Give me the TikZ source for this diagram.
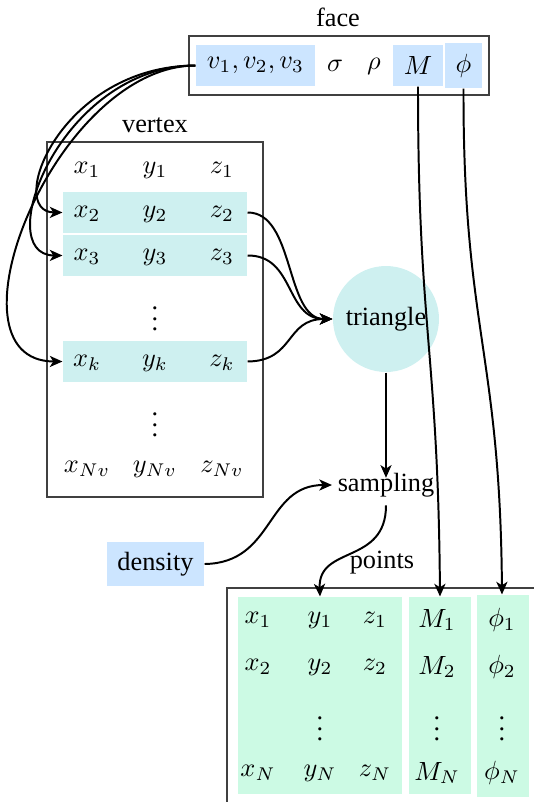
\documentclass[tikz,border=0pt]{standalone}
\usepackage[no-math]{fontspec}
\setmainfont{Liberation Serif}
\usetikzlibrary{arrows.meta,fit}
\definecolor{faceblue}{RGB}{204,229,255}
\definecolor{vcyan}{RGB}{206,240,240}
\definecolor{mint}{RGB}{204,250,228}
\tikzset{
  hl/.style={inner sep=0pt, draw=none},
  frame/.style={draw=black!75, line width=0.55pt},
  conn/.style={line width=0.75pt, -{Stealth[length=4.8pt,width=4.2pt,inset=1.3pt]}},
  cell/.style={inner sep=0pt},
  dots/.style={inner sep=0pt},
  lab/.style={inner sep=0pt, font=\fontsize{10}{12}\selectfont},
}
\begin{document}
\begin{tikzpicture}[x=0.38pt,y=-0.38pt]
\useasboundingbox (0,0) rectangle (533,802);
% ---------- face ----------
\node[lab] (facelab) at (338,17) {face};
\node[frame, fit={(189,36) (489,95)}, inner sep=0pt] (facebox) {};
\node[hl, fill=faceblue, fit={(196,45) (315,86)}] (vv) {};
\node[cell] at (vv) {$v_1,v_2,v_3$};
\node[cell] (sig) at (335,66) {$\sigma$};
\node[cell] (rho) at (374,66) {$\rho$};
\node[hl, fill=faceblue, fit={(393,45) (443,86)}] (Mf) {};
\node[cell] at (Mf) {$M$};
\node[hl, fill=faceblue, fit={(445,43) (482,88)}] (phif) {};
\node[cell] at (phif) {$\phi$};
% ---------- vertex ----------
\node[lab] (vertlab) at (155,125) {vertex};
\node[frame, fit={(47,142) (263,497)}, inner sep=0pt] (vertbox) {};
\node[hl, fill=vcyan, fit={(63,192) (247,233)}] (r2) {};
\node[hl, fill=vcyan, fit={(63,235) (247,276)}] (r3) {};
\node[hl, fill=vcyan, fit={(63,341) (247,382)}] (rk) {};
\node[cell] (x1) at (87,170) {$x_1$};
\node[cell] (y1) at (155,170) {$y_1$};
\node[cell] (z1) at (222,170) {$z_1$};
\node[cell] (x2) at (87,214) {$x_2$};
\node[cell] (y2) at (155,214) {$y_2$};
\node[cell] (z2) at (222,214) {$z_2$};
\node[cell] (x3) at (87,257) {$x_3$};
\node[cell] (y3) at (155,257) {$y_3$};
\node[cell] (z3) at (222,257) {$z_3$};
\node[dots] (vd1) at (155,311) {$\vdots$};
\node[cell] (xk) at (87,363) {$x_k$};
\node[cell] (yk) at (155,363) {$y_k$};
\node[cell] (zk) at (222,363) {$z_k$};
\node[dots] (vd2) at (155,417) {$\vdots$};
\node[cell] (xN) at (87,469) {$x_{Nv}$};
\node[cell] (yN) at (155,469) {$y_{Nv}$};
\node[cell] (zN) at (222,469) {$z_{Nv}$};
% ---------- triangle, sampling, density ----------
\node[circle, fill=vcyan, minimum size=106*0.38pt, inner sep=0pt, font=\fontsize{10}{12}\selectfont] (tri) at (386,319) {triangle};
\node[lab] (samp) at (386,485) {sampling};
\node[hl, fill=faceblue, fit={(107,542) (204,586)}] (dens) {};
\node[lab] at (dens) {density};
\node[lab] (ptslab) at (382,563) {points};
% ---------- points ----------
\draw[frame] (540,588) -- (227,588) -- (227,810);
\node[hl, fill=mint, fit={(238,597) (402,794)}] (pxyz) {};
\node[hl, fill=mint, fit={(409,597) (471,794)}] (pM) {};
\node[hl, fill=mint, fit={(477,595) (529,797)}] (pphi) {};
\node[cell] (px1) at (258,620) {$x_1$};
\node[cell] (py1) at (320,620) {$y_1$};
\node[cell] (pz1) at (375,620) {$z_1$};
\node[cell] (pM1) at (437,620) {$M_1$};
\node[cell] (pphi1) at (502,620) {$\phi_1$};
\node[cell] (px2) at (258,667) {$x_2$};
\node[cell] (py2) at (320,667) {$y_2$};
\node[cell] (pz2) at (375,667) {$z_2$};
\node[cell] (pM2) at (437,667) {$M_2$};
\node[cell] (pphi2) at (502,667) {$\phi_2$};
\node[dots] (pvd1) at (320,721) {$\vdots$};
\node[dots] (pvd2) at (437,721) {$\vdots$};
\node[dots] (pvd3) at (502,721) {$\vdots$};
\node[cell] (pxN) at (258,773) {$x_N$};
\node[cell] (pyN) at (320,773) {$y_N$};
\node[cell] (pzN) at (375,773) {$z_N$};
\node[cell] (pMN) at (437,773) {$M_N$};
\node[cell] (pphiN) at (502,773) {$\phi_N$};
% ---------- connectors ----------
\draw[conn] (vv.west) .. controls (60,66) and (5,212) .. (r2.west);
\draw[conn] (vv.west) .. controls (60,66) and (-10,255) .. (r3.west);
\draw[conn] (vv.west) .. controls (55,66) and (-62,361) .. (rk.west);
\draw[conn] (r2.east) .. controls (295,212) and (285,319) .. (tri.west);
\draw[conn] (r3.east) .. controls (295,255) and (285,319) .. (tri.west);
\draw[conn] (rk.east) .. controls (295,361) and (285,319) .. (tri.west);
\draw[conn] (tri.south) -- ([yshift=-2pt]samp.north);
\draw[conn] (dens.east) .. controls (275,563) and (265,485) .. ([xshift=-2pt]samp.west);
\draw[conn] ([yshift=-3pt]samp.south) .. controls (386,565) and (318,545) .. (pxyz.north -| py1);
\draw[conn] (Mf.south) .. controls (418,330) and (438,350) .. (pM.north);
\draw[conn] (phif.south) .. controls (463,330) and (500,350) .. (pphi.north -| pphi1);
\end{tikzpicture}
\end{document}
